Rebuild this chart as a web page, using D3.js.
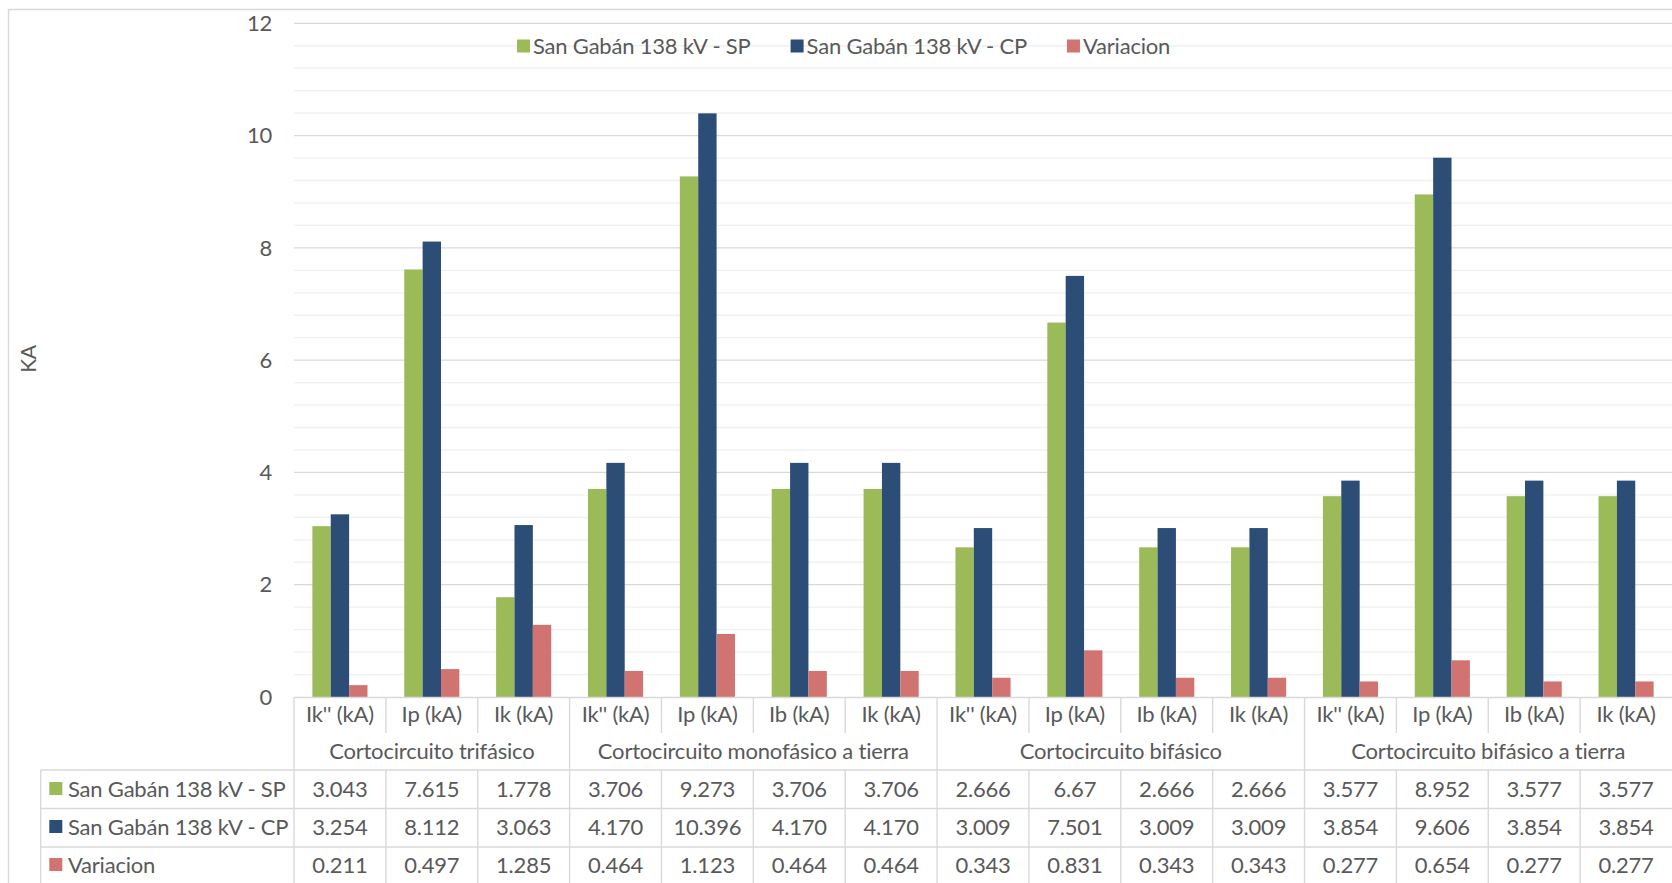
<!DOCTYPE html>
<html>
<head>
<meta charset="utf-8">
<script src="https://cdn.jsdelivr.net/npm/d3@7"></script>
<style>
  html, body { margin: 0; padding: 0; background: #ffffff; }
  svg { display: block; }
  text { font-family: Lato, "Noto Sans", sans-serif; fill: #595959; letter-spacing: -0.2px; }
</style>
</head>
<body>
<svg id="chart" width="1672" height="883"></svg>
<script>
// ---- data ----
const categories = ["Ik'' (kA)", "Ip (kA)", "Ik (kA)",
                    "Ik'' (kA)", "Ip (kA)", "Ib (kA)", "Ik (kA)",
                    "Ik'' (kA)", "Ip (kA)", "Ib (kA)", "Ik (kA)",
                    "Ik'' (kA)", "Ip (kA)", "Ib (kA)", "Ik (kA)"];
const groups = ["Cortocircuito trifásico", "Cortocircuito monofásico a tierra",
                "Cortocircuito bifásico", "Cortocircuito bifásico a tierra"];
const groupSizes = [3, 4, 4, 4];
const seriesNames = ["San Gabán 138 kV - SP", "San Gabán 138 kV - CP", "Variacion"];
const spValues = ["3.043", "7.615", "1.778", "3.706", "9.273", "3.706", "3.706",
                  "2.666", "6.67", "2.666", "2.666", "3.577", "8.952", "3.577", "3.577"];
const cpValues = ["3.254", "8.112", "3.063", "4.170", "10.396", "4.170", "4.170",
                  "3.009", "7.501", "3.009", "3.009", "3.854", "9.606", "3.854", "3.854"];
const varValues = ["0.211", "0.497", "1.285", "0.464", "1.123", "0.464", "0.464",
                   "0.343", "0.831", "0.343", "0.343", "0.277", "0.654", "0.277", "0.277"];
const yTicks = [0, 2, 4, 6, 8, 10, 12];
const yTitle = "KA";

// ---- styles ----
const colors = ["#9BBB59", "#2C4D75", "#D07371"];
const gridMajor = "#d9d9d9";
const gridMinor = "#f0f0f0";
const tableLine = "#d9d9d9";
const fontSize = 22;

const svg = d3.select("#chart");
const W = 1672, H = 883;
const plotLeft = 294, plotRight = 1672, plotTop = 23.3, plotBottom = 697;
const tableLeft = 40.7;
const catRowBottom = 733, groupRowBottom = 770;
const rowLines = [770, 808.5, 847];
const rowCenters = [788, 826, 864];

svg.append("rect").attr("width", W).attr("height", H).attr("fill", "#fff");

// outer frame
svg.append("path")
  .attr("d", `M8.5,${H} V9.5 H${W}`)
  .attr("fill", "none").attr("stroke", "#d9d9d9").attr("stroke-width", 1.4);

const idx = d3.range(categories.length);
const x = d3.scaleBand().domain(idx).range([plotLeft, plotRight])
  .paddingInner(0.4).paddingOuter(0.2);
const step = x.step();
const colLeft = i => x(i) - step * 0.2;
const xs = d3.scaleBand().domain(d3.range(seriesNames.length)).range([0, x.bandwidth()]);
const y = d3.scaleLinear().domain([0, 12]).range([plotBottom, plotTop]);

// gridlines: minor every 0.4, major at labelled ticks
const minorTicks = d3.range(0, 30).map(k => +(k * 0.4).toFixed(1)).filter(v => v > 0 && v < 12 && !yTicks.includes(v));
svg.append("g").selectAll("line").data(minorTicks).join("line")
  .attr("x1", plotLeft).attr("x2", plotRight)
  .attr("y1", d => y(d)).attr("y2", d => y(d))
  .attr("stroke", gridMinor).attr("stroke-width", 1.3);
svg.append("g").selectAll("line").data(yTicks.filter(v => v > 0)).join("line")
  .attr("x1", plotLeft).attr("x2", plotRight)
  .attr("y1", d => y(d)).attr("y2", d => y(d))
  .attr("stroke", gridMajor).attr("stroke-width", 1.3);

// y axis labels
const yAxis = d3.axisLeft(y).tickValues(yTicks).tickSize(0).tickPadding(0).tickFormat(d3.format("d"));
const yg = svg.append("g").attr("transform", `translate(${272},0)`).call(yAxis);
yg.select(".domain").remove();
yg.selectAll("text").attr("font-size", fontSize).attr("font-family", null).attr("fill", "#595959")
  .attr("dy", "0.33em");

svg.append("text")
  .attr("transform", `translate(27,359) rotate(-90)`)
  .attr("text-anchor", "middle").attr("dominant-baseline", "central")
  .attr("font-size", fontSize - 1).text(yTitle);

// bars
const seriesData = [spValues, cpValues, varValues].map(arr => arr.map(v => +v));
const barG = svg.append("g");
seriesData.forEach((vals, s) => {
  barG.append("g").selectAll("rect").data(vals).join("rect")
    .attr("x", (d, i) => x(i) + xs(s))
    .attr("width", xs.bandwidth())
    .attr("y", d => y(d))
    .attr("height", d => y(0) - y(d))
    .attr("fill", colors[s]);
});

// legend
const legend = svg.append("g");
let lx = 517;
seriesNames.forEach((name, s) => {
  legend.append("rect").attr("x", lx).attr("y", 39.5).attr("width", 13).attr("height", 13).attr("fill", colors[s]);
  const t = legend.append("text").attr("x", lx + 16).attr("y", 45)
    .attr("dominant-baseline", "central").attr("font-size", fontSize).text(name);
  lx += 16 + t.node().getComputedTextLength() + 40;
});

// data table
const tg = svg.append("g").attr("stroke", tableLine).attr("stroke-width", 1.4).attr("fill", "none");
tg.append("line").attr("x1", plotLeft).attr("x2", plotRight).attr("y1", plotBottom + 0.5).attr("y2", plotBottom + 0.5);
rowLines.forEach(yy => tg.append("line").attr("x1", tableLeft).attr("x2", plotRight).attr("y1", yy).attr("y2", yy));
tg.append("line").attr("x1", tableLeft).attr("x2", tableLeft).attr("y1", rowLines[0]).attr("y2", H);
// group boundaries (full height)
const groupStarts = groupSizes.reduce((acc, n) => { acc.push(acc[acc.length - 1] + n); return acc; }, [0]);
const groupBounds = new Set(groupStarts.slice(0, -1));
idx.forEach(i => {
  const xx = colLeft(i);
  if (groupBounds.has(i)) {
    tg.append("line").attr("x1", xx).attr("x2", xx).attr("y1", plotBottom).attr("y2", H);
  } else {
    tg.append("line").attr("x1", xx).attr("x2", xx).attr("y1", plotBottom).attr("y2", catRowBottom);
    tg.append("line").attr("x1", xx).attr("x2", xx).attr("y1", groupRowBottom).attr("y2", H);
  }
});

const txt = svg.append("g").attr("font-size", fontSize);
// category labels
txt.selectAll("text.cat").data(categories).join("text").attr("class", "cat")
  .attr("x", (d, i) => x(i) + x.bandwidth() / 2).attr("y", 713)
  .attr("text-anchor", "middle").attr("dominant-baseline", "central").text(d => d);
// group labels
groups.forEach((g, gi) => {
  const a = colLeft(groupStarts[gi]);
  const b = colLeft(groupStarts[gi]) + step * groupSizes[gi];
  txt.append("text").attr("x", (a + b) / 2).attr("y", 750)
    .attr("text-anchor", "middle").attr("dominant-baseline", "central").text(g);
});
// series rows
[spValues, cpValues, varValues].forEach((vals, s) => {
  txt.append("rect").attr("x", 49.3).attr("y", rowCenters[s] - 6).attr("width", 13).attr("height", 13).attr("fill", colors[s]);
  txt.append("text").attr("x", 68).attr("y", rowCenters[s])
    .attr("dominant-baseline", "central").text(seriesNames[s]);
  vals.forEach((v, i) => {
    txt.append("text").attr("x", x(i) + x.bandwidth() / 2).attr("y", rowCenters[s])
      .attr("text-anchor", "middle").attr("dominant-baseline", "central").text(v);
  });
});
</script>
</body>
</html>
